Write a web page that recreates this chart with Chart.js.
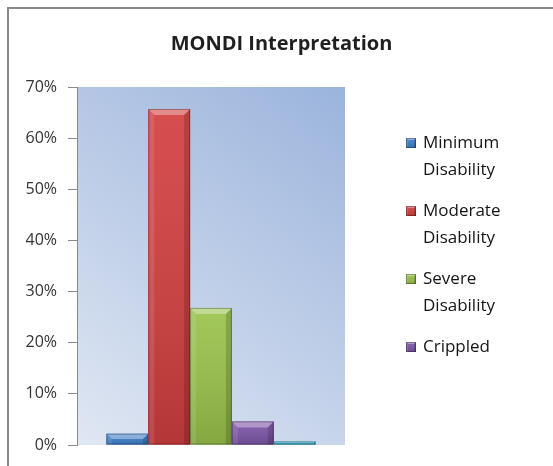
<!DOCTYPE html>
<html>
<head>
<meta charset="utf-8">
<title>MONDI Interpretation</title>
<script src="https://cdn.jsdelivr.net/npm/chart.js@4.4.1/dist/chart.umd.min.js"></script>
<style>
    html, body { margin: 0; padding: 0; background: #fff; }
    #wrap { width: 553px; height: 466px; position: relative; }
</style>
</head>
<body>
<div id="wrap"><canvas id="mondiChart"></canvas></div>
<script>
const chartTitle = 'MONDI Interpretation';
const categories = ['MONDI'];
const seriesLabels = [['Minimum', 'Disability'], ['Moderate', 'Disability'], ['Severe', 'Disability'], ['Crippled'], null];
const seriesValues = [2.2, 65.7, 26.8, 4.6, 0.7];
const seriesColors = ['#3f7fca', '#d23f3f', '#9ac24b', '#7d56a8', '#3fb1cd'];
const yTicks = [0, 10, 20, 30, 40, 50, 60, 70];

const fontFamily = '"Open Sans", "DejaVu Sans", sans-serif';

function drawBevelBox(ctx, left, top, right, bottom, color, size) {
    ctx.save();
    ctx.fillStyle = color;
    ctx.fillRect(left, top, right - left, bottom - top);

    const shade = ctx.createLinearGradient(0, top, 0, bottom);
    shade.addColorStop(0, 'rgba(255,255,255,0.08)');
    shade.addColorStop(1, 'rgba(0,0,0,0.14)');
    ctx.fillStyle = shade;
    ctx.fillRect(left, top, right - left, bottom - top);

    const b = Math.min(size, (bottom - top) / 2, (right - left) / 2);
    // top bevel
    ctx.fillStyle = 'rgba(255,255,255,0.35)';
    ctx.beginPath();
    ctx.moveTo(left, top);
    ctx.lineTo(right, top);
    ctx.lineTo(right - b, top + b);
    ctx.lineTo(left + b, top + b);
    ctx.closePath();
    ctx.fill();
    // left bevel
    ctx.fillStyle = 'rgba(255,255,255,0.10)';
    ctx.beginPath();
    ctx.moveTo(left, top);
    ctx.lineTo(left + b, top + b);
    ctx.lineTo(left + b, bottom);
    ctx.lineTo(left, bottom);
    ctx.closePath();
    ctx.fill();
    // right bevel
    ctx.fillStyle = 'rgba(0,0,0,0.16)';
    ctx.beginPath();
    ctx.moveTo(right, top);
    ctx.lineTo(right - b, top + b);
    ctx.lineTo(right - b, bottom);
    ctx.lineTo(right, bottom);
    ctx.closePath();
    ctx.fill();

    ctx.strokeStyle = 'rgba(0,0,0,0.28)';
    ctx.lineWidth = 1;
    ctx.strokeRect(left + 0.5, top + 0.5, right - left - 1, bottom - top - 1);
    ctx.restore();
}

const frameAndTitle = {
    id: 'frameAndTitle',
    beforeDraw(chart) {
        const { ctx, width, height, chartArea } = chart;
        ctx.save();
        ctx.strokeStyle = '#8a8a8a';
        ctx.lineWidth = 2;
        ctx.beginPath();
        ctx.moveTo(8, height);
        ctx.lineTo(8, 8);
        ctx.lineTo(width, 8);
        ctx.stroke();

        ctx.fillStyle = '#1f1f1f';
        ctx.font = 'bold 20px ' + fontFamily;
        ctx.textAlign = 'center';
        ctx.textBaseline = 'middle';
        ctx.fillText(chartTitle, width / 2 + 5, 44);

        const g = ctx.createLinearGradient(chartArea.left, chartArea.bottom, chartArea.right, chartArea.top);
        g.addColorStop(0, '#e0e7f3');
        g.addColorStop(1, '#9bb4dc');
        ctx.fillStyle = g;
        ctx.fillRect(chartArea.left, chartArea.top, chartArea.right - chartArea.left, chartArea.bottom - chartArea.top);
        ctx.restore();
    },
};

const bevelBars = {
    id: 'bevelBars',
    afterDatasetsDraw(chart) {
        const { ctx } = chart;
        chart.data.datasets.forEach((ds, i) => {
            const meta = chart.getDatasetMeta(i);
            meta.data.forEach((bar) => {
                const left = bar.x - bar.width / 2;
                const right = bar.x + bar.width / 2;
                drawBevelBox(ctx, left, bar.y, right, bar.base, ds.backgroundColor, 6);
            });
        });
    },
};

const sideLegend = {
    id: 'sideLegend',
    afterDraw(chart) {
        const { ctx, chartArea } = chart;
        const x = chartArea.right + 61;
        let y = 143;
        ctx.save();
        ctx.font = '17px ' + fontFamily;
        ctx.textBaseline = 'middle';
        ctx.textAlign = 'left';
        seriesLabels.forEach((lines, i) => {
            if (!lines) return;
            drawBevelBox(ctx, x, y - 5, x + 10, y + 5, seriesColors[i], 2);
            lines.forEach((line, k) => {
                ctx.fillStyle = '#141414';
                ctx.fillText(line, x + 17, y + k * 27);
            });
            y += 27 * lines.length + 14;
        });
        ctx.restore();
    },
};

new Chart(document.getElementById('mondiChart'), {
    type: 'bar',
    data: {
        labels: categories,
        datasets: seriesValues.map((v, i) => ({
            label: seriesLabels[i] ? seriesLabels[i].join(' ') : '',
            data: [v],
            backgroundColor: seriesColors[i],
            borderWidth: 0,
            categoryPercentage: 0.78,
            barPercentage: 1,
        })),
    },
    options: {
        responsive: true,
        maintainAspectRatio: false,
        animation: false,
        layout: {
            padding: { left: 8, right: 208, top: 87, bottom: 21 },
        },
        plugins: {
            legend: { display: false },
            title: { display: false },
            tooltip: { enabled: false },
        },
        scales: {
            x: {
                display: false,
            },
            y: {
                min: 0,
                max: 70,
                afterFit(scale) {
                    scale.width = 69;
                },
                afterBuildTicks(scale) {
                    scale.ticks = yTicks.map((v) => ({ value: v }));
                },
                ticks: {
                    padding: 11,
                    color: '#333333',
                    font: { family: fontFamily, size: 16 },
                    callback: (v) => v + '%',
                },
                grid: {
                    drawOnChartArea: false,
                    drawTicks: true,
                    tickLength: 9,
                    color: '#8a8a8a',
                },
                border: { display: true, color: '#8a8a8a', width: 1 },
            },
        },
    },
    plugins: [frameAndTitle, bevelBars, sideLegend],
});
</script>
</body>
</html>
